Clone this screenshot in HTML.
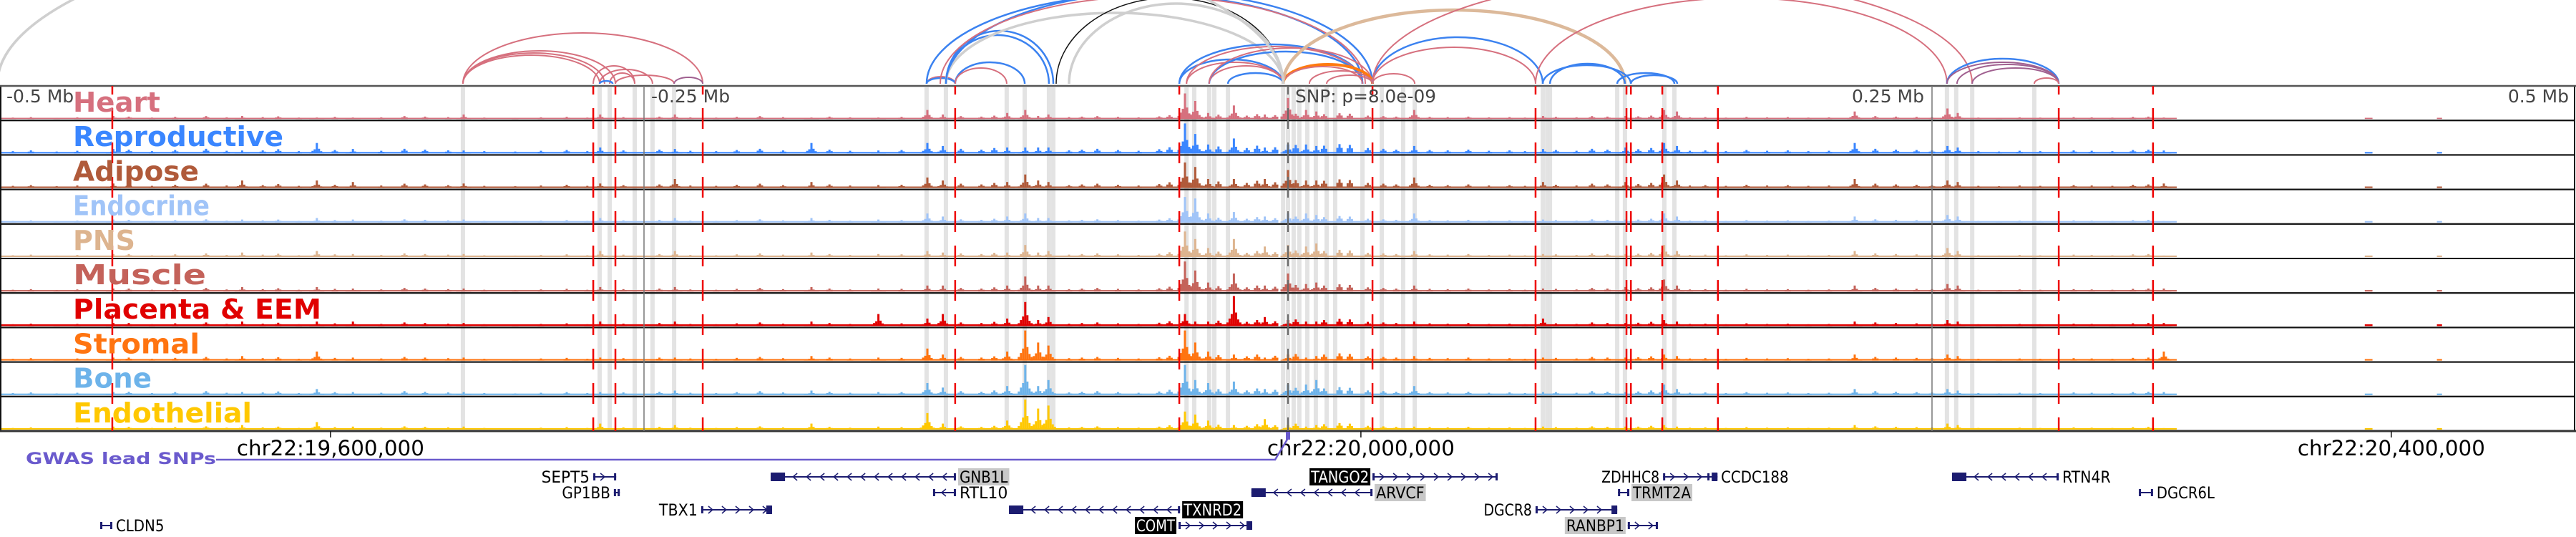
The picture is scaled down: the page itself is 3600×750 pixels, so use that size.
<!DOCTYPE html>
<html><head><meta charset="utf-8"><style>
html,body{margin:0;padding:0;background:#fff;}
svg{display:block;font-family:"DejaVu Sans","Liberation Sans",sans-serif;}
</style></head><body>
<svg id="fig" width="3600" height="750" viewBox="0 0 3600 750" xmlns="http://www.w3.org/2000/svg">
<defs><clipPath id="arcclip"><rect x="0" y="0" width="3600" height="118"/></clipPath></defs>
<g id="arcs" clip-path="url(#arcclip)"></g>
<g id="bands"></g>
<g id="signals"></g>
<g id="frames"></g>
<g id="vlines"></g>
<g id="labels"></g>
<g id="genes"></g>
</svg>
<script>
// ---- data (positions in kb relative to lead SNP; genome coordinate of SNP ~19,971.7 kb) ----
const tracks = ["Heart","Reproductive","Adipose","Endocrine","PNS","Muscle","Placenta & EEM","Stromal","Bone","Endothelial"];
const trackColors = ["#d6707e","#3a86ff","#b05a3a","#a0c4f8","#ddb48f","#c4625a","#e00000","#ff7410","#6db3ea","#ffc800"];
const peakPos = [-456,-406,-377,-363,-320,-267,-238,-185,-159,-140,-134,-109,-102,-97,-93,-40,-36,-31,-21,-9,0,7,11,49,99,131,146,151,220,256,260,340];
const heart     = [.1,.1,.05,.05,.15,.15,.15,.05,.05,.3,.15,.2,.3,.1,.15,.85,.6,.2,.45,.15,.7,.3,.25,.3,.1,.1,.3,.25,.25,.35,.2,.05];
const repro     = [.15,.1,.35,.15,.1,.2,.15,.35,.1,.35,.25,.2,.2,.2,.2,1,.65,.3,.5,.2,.3,.3,.25,.25,.15,.2,.35,.25,.35,.25,.2,.1];
const adipose   = [.15,.25,.25,.2,.15,.15,.3,.2,.1,.35,.25,.2,.45,.25,.2,.85,.7,.3,.3,.3,.6,.25,.25,.35,.2,.2,.45,.25,.3,.25,.2,.15];
const endocrine = [.1,.1,.15,.1,.1,.15,.15,.15,.1,.3,.2,.2,.3,.15,.15,.85,.8,.3,.35,.2,.3,.3,.25,.3,.1,.1,.3,.2,.2,.25,.2,.05];
const pns       = [.1,.15,.2,.1,.1,.2,.2,.15,.1,.2,.15,.15,.4,.15,.2,.85,.6,.3,.6,.35,.4,.35,.45,.2,.1,.1,.4,.2,.2,.3,.2,.05];
const muscle    = [.1,.15,.15,.1,.1,.15,.15,.15,.1,.2,.2,.2,.5,.2,.2,1,.7,.3,.6,.2,.6,.25,.3,.2,.1,.15,.4,.2,.2,.25,.2,.1];
const placenta  = [.1,.15,.15,.15,.1,.15,.15,.15,.4,.25,.4,.25,.8,.2,.3,.4,.15,.15,1,.3,.2,.15,.15,.15,.25,.1,.2,.15,.15,.2,.15,.1];
const stromal   = [.1,.15,.3,.1,.1,.1,.1,.15,.1,.4,.2,.3,1,.6,.5,1,.6,.3,.2,.1,.2,.1,.15,.15,.1,.1,.2,.15,.2,.2,.15,.3];
const bone      = [.1,.1,.2,.1,.1,.1,.15,.15,.1,.4,.25,.3,1,.3,.5,1,.5,.4,.45,.2,.35,.35,.5,.3,.1,.1,.35,.2,.2,.2,.15,.1];
const endoth    = [.1,.15,.25,.1,.1,.2,.15,.2,.1,.55,.2,.3,1,.7,.8,.6,.5,.3,.15,.35,.15,.1,.15,.1,.1,.1,.15,.1,.15,.2,.15,.05];
const baselineLevel = [.04,.05,.05,.05,.05,.05,.06,.05,.05,.05];
const minorPos = [-495,-488,-478,-470,-450,-441,-432,-420,-412,-398,-392,-384,-370,-352,-343,-335,-326,-312,-300,-290,-280,-272,-258,-244,-232,-222,-214,-205,-196,-178,-170,-150,-127,-119,-114,-85,-80,-74,-66,-58,-50,-46,-27,-16,-12,-5,3,14,20,24,31,37,42,55,62,70,78,86,92,104,112,118,124,136,141,156,162,170,178,186,194,202,210,228,236,244,250,268,276,284,292,305,312,320,328,334];
const minorAmp = [.06,.08,.05,.07,.1,.06,.09,.12,.07,.08,.11,.06,.09,.07,.12,.1,.08,.06,.05,.07,.09,.06,.08,.1,.07,.06,.09,.12,.08,.1,.07,.09,.12,.1,.14,.08,.1,.12,.09,.07,.11,.16,.18,.14,.2,.16,.22,.2,.24,.22,.14,.12,.1,.09,.08,.1,.07,.08,.06,.09,.07,.12,.1,.11,.14,.07,.08,.06,.09,.07,.08,.06,.07,.12,.1,.09,.08,.06,.05,.07,.06,.08,.07,.06,.09,.1];
const trackNoise = [.8,1.3,1.2,.9,1,1,1,1,1.1,.9];
const coverage = [[-500,-4],[-2,345],[418,421],[446,448]];
const bandPos = [-320.3,-267.2,-263.3,-253.6,-246.7,-238.3,-140.3,-132.8,-109.2,-102.2,-92.8,-91.1,-39.4,-36.4,-30.6,-28.6,-23.3,-1.9,0,2.2,4.4,7.5,10.8,15,18.3,28.9,36.4,44.7,49.2,98.9,100.6,101.7,127.8,130.8,146.1,150,255.8,259.4,265.6,289.7];
const redLinePos = [-456.4,-269.7,-261.1,-227.2,-129.2,-42.2,32.8,96.1,131.4,133.1,145.3,166.9,299.2,335.8];
const grayLinePos = [-250,250];
const snpPos = 0;
const arcStart = [-320.3,-320.3,-320.3,-320.3,-269.7,-267.2,-263.3,-261.1,-238.3,-267.2,-140.3,-140.3,-132.8,-132.8,-129.2,-129.2,-132.8,-140.3,-132.8,-135,-90,-85,-42.2,-39.4,-30.6,-23.3,-42.2,-39.4,-30.6,-30.6,-1.9,-1.9,8.3,15,-1.9,32.8,32.8,32.8,32.8,96.1,101.7,98.9,127.8,133.1,255.8,255.8,259.7,265.6,289.7,-501];
const arcEnd   = [-227.2,-261.1,-267.2,-265.3,-253.6,-246.7,-253.6,-238.3,-227.2,-262.2,-129.2,-129.2,-91.1,-92.8,-102.2,-109.2,-1.9,28.9,32.8,30,-1.9,-1.9,-1.9,-1.9,-1.9,-1.9,28.9,28.9,28.9,32.8,32.8,28.9,32.8,32.8,130.8,49.2,98.9,96.1,265.6,255.8,130.8,133.1,150,151.1,299.2,299.2,299.2,299.2,299.2,-1.9];
const arcHeight= [71,46,40,43,25,20,15,12,9,4,10,8,74,68,30,22,99,125,128,122,120,112,34,30,25,15,55,52,45,50,27,24,18,12,103,14,65,51,148,120,28,26,15,12,35,30,27,22,8,250];
const arcTissue= ["h","h","h","h","h","h","h","h","p","b","h","b","b","b","b","h","g","b","b","h","k","g","b","h","h","b","b","h","b","h","o","h","h","h","t","h","b","h","h","h","b","b","b","b","b","p","p","p","h","g"];
const axisTicks = [-500,-250,250,500];
const axisTickLabels = ["-0.5 Mb","-0.25 Mb","0.25 Mb","0.5 Mb"];
const snpLabel = "SNP: p=8.0e-09";
const chrTicks = [19600,20000,20400];
const chrTickLabels = ["chr22:19,600,000","chr22:20,000,000","chr22:20,400,000"];
const snpGenome = 19971.7;
const geneNames = ["SEPT5","GNB1L","TANGO2","ZDHHC8","CCDC188","RTN4R","GP1BB","RTL10","ARVCF","TRMT2A","DGCR6L","TBX1","TXNRD2","DGCR8","CLDN5","COMT","RANBP1"];
const geneStart = [-269.7,-200.8,32.8,145.6,162.8,257.8,-261.7,-137.8,-14.2,128.1,330.3,-227.8,-108.3,96.1,-461.1,-42.5,131.9];
const geneEnd   = [-260.8,-128.9,81.4,166.7,166.7,299.2,-259.4,-128.9,32.8,132.5,335.8,-200.3,-41.9,127.8,-456.4,-13.9,143.6];
const geneStrand= [1,-1,1,1,1,-1,1,-1,-1,-1,-1,1,-1,1,-1,1,1];
const geneRow   = [0,0,0,0,0,0,1,1,1,1,1,2,2,2,3,3,3];
const geneLabelSide = ["L","R","L","L","R","R","L","R","R","R","R","L","R","L","R","L","L"];
const geneLabelStyle= ["n","g","k","n","n","n","n","n","g","g","n","n","k","n","n","k","g"];
const trackLabelWidths = [122,294,176,191,87,186,347,177,110,250];

// ---- scales / layout ----
const NS="http://www.w3.org/2000/svg";
const PX_PER_KB=3.6, CENTER=1800;
const xScale = kb => CENTER + kb*PX_PER_KB;
const TOP=120, ROWH=48.2, NROW=tracks.length, BOTTOM=TOP+ROWH*NROW, ARC_BASE=117, PEAKMAX=42;
const yScale = (row,v) => TOP + ROWH*(row+1) - 2 - v*PEAKMAX;
function mk(tag,attrs,parent){const e=document.createElementNS(NS,tag);for(const k in attrs)e.setAttribute(k,attrs[k]);parent.appendChild(e);return e;}
const arcColors={h:"#d6707e",b:"#3b82f0",g:"#cfcfcf",k:"#111111",o:"#ff7a10",t:"#dcb99a",p:"#a06090"};
const series=[heart,repro,adipose,endocrine,pns,muscle,placenta,stromal,bone,endoth];

// arcs
const arcsG=document.getElementById('arcs');
const arcW={h:2,b:2.5,g:3.5,k:1.5,o:4,t:4.5,p:2};
arcStart.forEach((s,i)=>{
  const x1=xScale(s), x2=xScale(arcEnd[i]), r=(x2-x1)/2;
  const p=mk('path',{d:`M${x1},${ARC_BASE} A${r},${arcHeight[i]} 0 0 1 ${x2},${ARC_BASE}`,fill:'none',stroke:arcColors[arcTissue[i]],'stroke-width':arcW[arcTissue[i]]},arcsG);
  
  
});

// bands
const bandsG=document.getElementById('bands');
bandPos.forEach(b=>{
  const r=mk('rect',{x:xScale(b)-3,y:TOP+2,width:6,height:BOTTOM-TOP-4,fill:'#e3e3e3'},bandsG);
  
  
});

// signals
const sigG=document.getElementById('signals');
series.forEach((vals,t)=>{
  const g=mk('g',{fill:trackColors[t]},sigG);
  
  
  const base=yScale(t,0);
  coverage.forEach(c=>{
    const bl=baselineLevel[t]*PEAKMAX;
    mk('rect',{x:xScale(c[0]),y:base-bl,width:xScale(c[1])-xScale(c[0]),height:bl},g);
  });
  minorPos.forEach((p,i)=>{
    const v=minorAmp[i]*trackNoise[t];
    const x=xScale(p);
    [[0,1],[-3,.6],[3,.6]].forEach(([dx,f])=>{
      const y=yScale(t,v*f);
      mk('rect',{x:x+dx-1.5,y:y,width:3,height:base-y},g);
    });
  });
  peakPos.forEach((p,i)=>{
    const x=xScale(p), v=vals[i];
    const hs=[[0,1],[-3,.4],[3,.45],[-6,.25],[6,.22],[-9,.12],[9,.12]];
    hs.forEach(([dx,f])=>{
      const y=yScale(t,v*f);
      mk('rect',{x:x+dx-1.5,y:y,width:3,height:base-y},g);
    });
  });
});

// frames
const frG=document.getElementById('frames');
for(let i=0;i<NROW;i++){
  const r=mk('rect',{x:1,y:TOP+ROWH*i,width:3597,height:ROWH,fill:'none',stroke:'#111','stroke-width':2},frG);
  
  
}
mk('line',{x1:0,x2:3600,y1:TOP,y2:TOP,stroke:'#555','stroke-width':2.5},frG);
mk('line',{x1:0,x2:3600,y1:BOTTOM,y2:BOTTOM,stroke:'#333','stroke-width':3},frG);

// vertical lines
const vG=document.getElementById('vlines');
grayLinePos.forEach(p=>{
  const l=mk('line',{x1:xScale(p),x2:xScale(p),y1:TOP,y2:BOTTOM,stroke:'#777','stroke-width':1.5},vG);
  
  
});
const sl=mk('line',{x1:xScale(snpPos),x2:xScale(snpPos),y1:TOP,y2:BOTTOM,stroke:'#666','stroke-width':2,'stroke-dasharray':'29,19','stroke-dashoffset':17},vG);


redLinePos.forEach(p=>{
  const l=mk('line',{x1:xScale(p),x2:xScale(p),y1:TOP,y2:BOTTOM,stroke:'#ee0000','stroke-width':2.5,'stroke-dasharray':'29,19','stroke-dashoffset':17},vG);
  
  
});

// labels
const lG=document.getElementById('labels');
tracks.forEach((n,i)=>{
  const t=mk('text',{x:102,y:TOP+ROWH*i+36,fill:trackColors[i],'font-size':38,'font-weight':'bold',textLength:trackLabelWidths[i],lengthAdjust:'spacingAndGlyphs'},lG);
  t.textContent=n;
  
  
});
axisTicks.forEach((a,i)=>{
  const left=a<0;
  const x=left?(a===-500?9:xScale(a)+10):(a===500?3590:xScale(a)-11);
  const t=mk('text',{x:x,y:143,fill:'#444','font-size':25,'text-anchor':left?'start':'end'},lG);
  t.textContent=axisTickLabels[i];
  
  
});
const st=mk('text',{x:xScale(snpPos)+10,y:143,fill:'#444','font-size':25,textLength:197,lengthAdjust:'spacingAndGlyphs'},lG);
st.textContent=snpLabel;



// gene area
const gG=document.getElementById('genes');
chrTicks.forEach((c,i)=>{
  const x=xScale(c-snpGenome);
  mk('line',{x1:x,x2:x,y1:BOTTOM,y2:BOTTOM+9,stroke:'#111','stroke-width':1.5},gG);
  const t=mk('text',{x:x,y:636,'font-size':29,'text-anchor':'middle',fill:'#000',textLength:262,lengthAdjust:'spacingAndGlyphs'},gG);
  t.textContent=chrTickLabels[i];
  
  
});
const gw=mk('text',{x:36,y:648,'font-size':22,'font-weight':'bold',fill:'#6a5acd',textLength:266,lengthAdjust:'spacingAndGlyphs'},gG);
gw.textContent="GWAS lead SNPs";


const gl=mk('polyline',{points:`302,642 ${xScale(snpPos)-18},642 ${xScale(snpPos)},612`,fill:'none',stroke:'#6a5acd','stroke-width':2.5},gG);


const gs=mk('rect',{x:xScale(snpPos)-3,y:603,width:6,height:11,fill:'#6a5acd'},gG);


const rowY=[666,688,712,734];
geneNames.forEach((n,i)=>{
  const g=mk('g',{},gG);
  
  
  const x1=xScale(geneStart[i]), x2=xScale(geneEnd[i]), y=rowY[geneRow[i]];
  mk('line',{x1:x1,x2:x2,y1:y,y2:y,stroke:'#1c1c70','stroke-width':2},g);
  mk('rect',{x:x1,y:y-5,width:3,height:10,fill:'#1c1c70'},g);
  mk('rect',{x:x2-3,y:y-5,width:3,height:10,fill:'#1c1c70'},g);
  if(geneStrand[i]<0 && x2-x1>60) mk('rect',{x:x1,y:y-6,width:20,height:12,fill:'#1c1c70'},g);
  if(geneStrand[i]>0 && x2-x1>60 && n!=="TANGO2") mk('rect',{x:x2-8,y:y-6,width:8,height:12,fill:'#1c1c70'},g);
  for(let cx=x1+14;cx<x2-6;cx+=19){
    const d=geneStrand[i]>0?`M${cx-4},${y-5} L${cx+2},${y} L${cx-4},${y+5}`:`M${cx+4},${y-5} L${cx-2},${y} L${cx+4},${y+5}`;
    mk('path',{d:d,fill:'none',stroke:'#1c1c70','stroke-width':1.5},g);
  }
  const fs=22, w=n.length*13.5+4;
  const tx=geneLabelSide[i]==='L'?x1-3:x2+3;
  const anchor=geneLabelSide[i]==='L'?'end':'start';
  if(geneLabelStyle[i]!=='n'){
    const bx=geneLabelSide[i]==='L'?tx-w:tx;
    mk('rect',{x:bx,y:y-12,width:w,height:24,fill:geneLabelStyle[i]==='k'?'#000':'#c8c8c8'},g);
  }
  const t=mk('text',{x:geneLabelSide[i]==='L'?tx-2:tx+2,y:y+8,'font-size':fs,'text-anchor':anchor,fill:geneLabelStyle[i]==='k'?'#fff':'#000',textLength:w-4,lengthAdjust:'spacingAndGlyphs'},g);
  t.textContent=n;
});
</script>
</body></html>
